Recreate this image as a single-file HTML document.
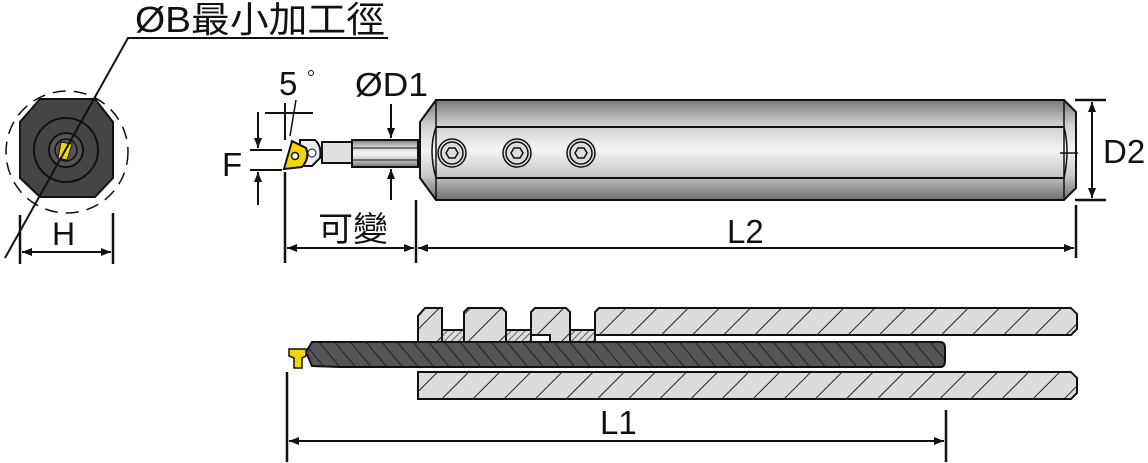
<!DOCTYPE html>
<html><head><meta charset="utf-8"><style>
html,body{margin:0;padding:0;background:#fff;width:1148px;height:463px;overflow:hidden}
text{font-family:"Liberation Sans","Noto Sans CJK TC",sans-serif;fill:#111}
</style></head><body>
<svg width="1148" height="463" viewBox="0 0 1148 463" xmlns="http://www.w3.org/2000/svg">
<defs>
<linearGradient id="sh" x1="0" y1="0" x2="0" y2="1">
<stop offset="0" stop-color="#7a7a7a"/><stop offset="0.25" stop-color="#d0d0d0"/><stop offset="0.5" stop-color="#f4f4f4"/><stop offset="0.75" stop-color="#c8c8c8"/><stop offset="1" stop-color="#6e6e6e"/>
</linearGradient>
<pattern id="h1" width="22" height="22" patternUnits="userSpaceOnUse" patternTransform="rotate(45)">
<rect width="22" height="22" fill="#dcdcdc"/><line x1="0" y1="0" x2="0" y2="22" stroke="#222" stroke-width="2"/></pattern>
<pattern id="h2" width="12" height="12" patternUnits="userSpaceOnUse" patternTransform="rotate(-40)">
<rect width="12" height="12" fill="#555"/><line x1="0" y1="0" x2="0" y2="12" stroke="#222" stroke-width="2"/></pattern>
<pattern id="h3" width="5" height="5" patternUnits="userSpaceOnUse" patternTransform="rotate(45)">
<rect width="5" height="5" fill="#ddd"/><line x1="0" y1="0" x2="0" y2="5" stroke="#222" stroke-width="1.3"/></pattern>
<marker id="a" viewBox="0 0 10 10" refX="10" refY="5" markerWidth="12" markerHeight="10" markerUnits="userSpaceOnUse" orient="auto-start-reverse"><path d="M0,1 L10,5 L0,9 Z" fill="#111"/></marker>
</defs>

<!-- end view -->
<circle cx="67" cy="152" r="61" fill="none" stroke="#111" stroke-width="1.5" stroke-dasharray="13,8"/>
<polygon points="40,99 95,99 113,122 113,178 95,197 40,197 20,178 20,122" fill="#454545" stroke="#111" stroke-width="2"/>
<circle cx="66" cy="150" r="32" fill="none" stroke="#111" stroke-width="2"/>
<circle cx="66" cy="150" r="17" fill="#555" stroke="#111" stroke-width="2"/>
<circle cx="66" cy="150" r="11" fill="none" stroke="#111" stroke-width="1.5"/>
<polygon points="61,142 72,144 67,160 58,158" fill="#f2d600" stroke="#111"/>
<polyline points="5,258 128,38 388,38" fill="none" stroke="#111" stroke-width="2"/>
<text x="135" y="32" font-size="36" textLength="250" lengthAdjust="spacingAndGlyphs">ØB最小加工徑</text>
<line x1="20" y1="215" x2="20" y2="264" stroke="#111" stroke-width="2.5"/>
<line x1="113" y1="213" x2="113" y2="264" stroke="#111" stroke-width="2.5"/>
<line x1="22" y1="252" x2="111" y2="252" stroke="#111" stroke-width="2" marker-start="url(#a)" marker-end="url(#a)"/>
<text x="52" y="245" font-size="32">H</text>

<!-- side view tool -->
<rect x="322" y="142" width="32" height="21" fill="#e0e0e0" stroke="#111" stroke-width="2"/>
<rect x="352" y="140" width="66" height="27" fill="url(#sh)" stroke="#111" stroke-width="2"/>
<line x1="352" y1="148" x2="418" y2="148" stroke="#111" stroke-width="1"/>
<line x1="352" y1="160" x2="418" y2="160" stroke="#111" stroke-width="1"/>
<path d="M300,140 L315,140 Q322,146 320,158 L312,166 L300,166 Z" fill="#eee" stroke="#111" stroke-width="2"/>
<circle cx="312" cy="153" r="4" fill="#fff" stroke="#111"/>
<path d="M292,141 L306,148 Q310,158 302,167 L284,169 Z" fill="#f2d600" stroke="#111" stroke-width="2"/>
<circle cx="295" cy="156" r="3.5" fill="#fff" stroke="#111" stroke-width="1.5"/>
<!-- shank -->
<path d="M436,100 L1064,100 L1076,112 L1076,188 L1064,200 L436,200 L420,178 L420,122 Z" fill="url(#sh)" stroke="#111" stroke-width="2"/>
<line x1="436" y1="100" x2="436" y2="200" stroke="#111" stroke-width="1.5"/>
<path d="M436,127 Q428,150 436,178" fill="none" stroke="#111" stroke-width="1.5"/>
<line x1="1064" y1="100" x2="1064" y2="200" stroke="#111" stroke-width="1.5"/>
<path d="M1064,127 Q1070,150 1064,178" fill="none" stroke="#111" stroke-width="1.5"/>
<line x1="436" y1="127" x2="1064" y2="127" stroke="#111" stroke-width="2"/>
<line x1="436" y1="178" x2="1064" y2="178" stroke="#111" stroke-width="2"/>
<line x1="1060" y1="153" x2="1078" y2="153" stroke="#111" stroke-width="1.5"/>
<g fill="#ddd" stroke="#111" stroke-width="1.5">
<circle cx="452" cy="153" r="14"/><circle cx="452" cy="153" r="11"/><polygon points="446,153 449,148 455,148 458,153 455,158 449,158"/>
<circle cx="517" cy="153" r="14"/><circle cx="517" cy="153" r="11"/><polygon points="511,153 514,148 520,148 523,153 520,158 514,158"/>
<circle cx="581" cy="153" r="14"/><circle cx="581" cy="153" r="11"/><polygon points="575,153 578,148 584,148 587,153 584,158 578,158"/>
</g>
<!-- dims side -->
<text x="279" y="95" font-size="33">5</text>
<circle cx="311" cy="73" r="2.5" fill="none" stroke="#111"/>
<line x1="265" y1="113" x2="313" y2="113" stroke="#111" stroke-width="2"/>
<line x1="285" y1="103" x2="285" y2="140" stroke="#111" stroke-width="2"/>
<line x1="296" y1="100" x2="290" y2="136" stroke="#111" stroke-width="1.5"/>
<line x1="250" y1="150" x2="282" y2="150" stroke="#111" stroke-width="2"/>
<line x1="250" y1="170" x2="282" y2="170" stroke="#111" stroke-width="2"/>
<line x1="258" y1="112" x2="258" y2="148" stroke="#111" stroke-width="2" marker-end="url(#a)"/>
<line x1="258" y1="205" x2="258" y2="172" stroke="#111" stroke-width="2" marker-end="url(#a)"/>
<text x="222" y="176" font-size="33">F</text>
<text x="355" y="96" font-size="33" textLength="73" lengthAdjust="spacingAndGlyphs">ØD1</text>
<line x1="391" y1="104" x2="391" y2="138" stroke="#111" stroke-width="2" marker-end="url(#a)"/>
<line x1="391" y1="200" x2="391" y2="169" stroke="#111" stroke-width="2" marker-end="url(#a)"/>
<line x1="285" y1="172" x2="285" y2="263" stroke="#111" stroke-width="2.5"/>
<line x1="416" y1="200" x2="416" y2="263" stroke="#111" stroke-width="2.5"/>
<line x1="1076" y1="205" x2="1076" y2="258" stroke="#111" stroke-width="2.5"/>
<line x1="287" y1="248" x2="414" y2="248" stroke="#111" stroke-width="2" marker-start="url(#a)" marker-end="url(#a)"/>
<line x1="418" y1="248" x2="1074" y2="248" stroke="#111" stroke-width="2" marker-start="url(#a)" marker-end="url(#a)"/>
<text x="318" y="241" font-size="34" textLength="70" lengthAdjust="spacingAndGlyphs">可變</text>
<text x="727" y="243" font-size="33">L2</text>
<line x1="1075" y1="100" x2="1106" y2="100" stroke="#111" stroke-width="2.5"/>
<line x1="1075" y1="200" x2="1106" y2="200" stroke="#111" stroke-width="2.5"/>
<line x1="1092" y1="102" x2="1092" y2="198" stroke="#111" stroke-width="2" marker-start="url(#a)" marker-end="url(#a)"/>
<text x="1103" y="163" font-size="33">D2</text>

<!-- section view -->
<g stroke="#111" stroke-width="2">
<rect x="442" y="330" width="22" height="12" fill="url(#h3)"/>
<rect x="506" y="330" width="25" height="12" fill="url(#h3)"/>
<rect x="570" y="330" width="25" height="12" fill="url(#h3)"/>
<path d="M425,308 L442,308 L442,342 L418,342 L418,316 Z" fill="url(#h1)"/>
<path d="M468,308 L502,308 L506,312 L506,342 L464,342 L464,312 Z" fill="url(#h1)"/>
<path d="M535,308 L566,308 L570,312 L570,342 L550,342 L550,335 L531,335 L531,312 Z" fill="url(#h1)"/>
<path d="M599,308 L1071,308 L1077,314 L1077,329 L1071,335 L595,335 L595,312 Z" fill="url(#h1)"/>
<path d="M418,372 L1071,372 L1077,378 L1077,393 L1071,399 L418,399 Z" fill="url(#h1)"/>
<path d="M312,342 L940,342 Q945,342 945,348 L945,361 Q945,367 940,367 L340,367 L312,366 L306,352 Z" fill="url(#h2)"/>
<path d="M289,349 L306,349 L306,356 L302,358 L302,368 L294,368 L294,358 L289,356 Z" fill="#f2d600" stroke-width="1.5"/>
</g>
<line x1="287" y1="372" x2="287" y2="462" stroke="#111" stroke-width="2.5"/>
<line x1="946" y1="410" x2="946" y2="462" stroke="#111" stroke-width="2.5"/>
<line x1="289" y1="441" x2="944" y2="441" stroke="#111" stroke-width="2" marker-start="url(#a)" marker-end="url(#a)"/>
<text x="600" y="434" font-size="33">L1</text>
</svg>
</body></html>
